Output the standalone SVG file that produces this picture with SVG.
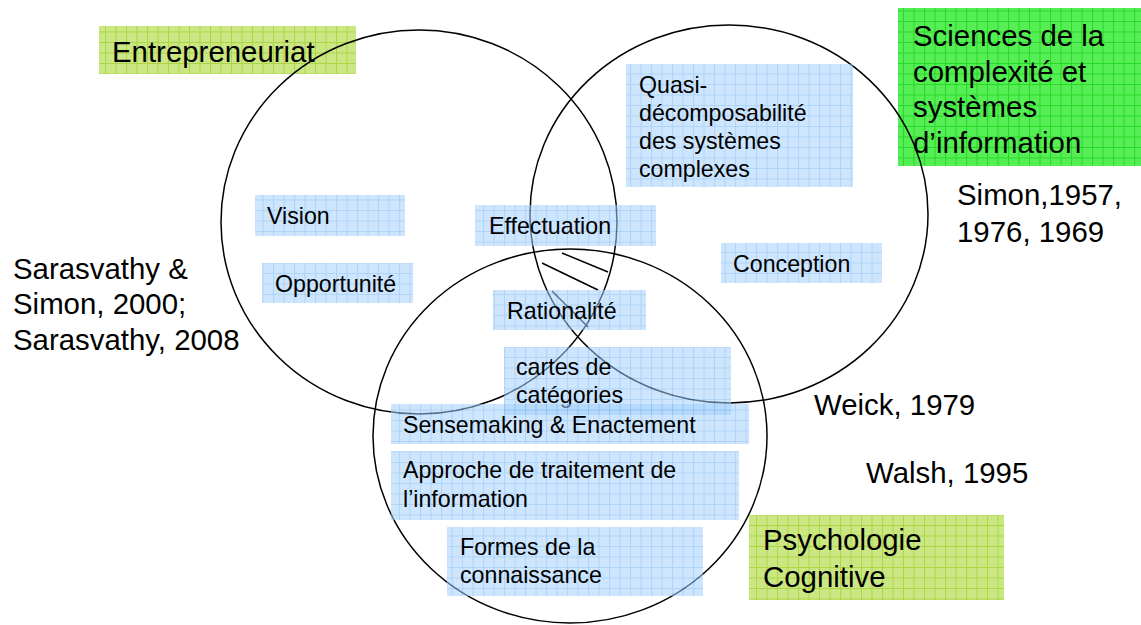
<svg xmlns="http://www.w3.org/2000/svg" width="1141" height="625" viewBox="0 0 1141 625">
<defs>
<style>
text{font-family:"Liberation Sans",Arial,sans-serif;fill:#000}
.big{font-size:29.4px}
.sm{font-size:23.2px}
.circ{fill:none;stroke:#000;stroke-width:1.5}
.hatch{stroke:#000;stroke-width:1.5}
.bbox{fill:url(#gblue);opacity:0.55}
.ybox{fill:url(#gyel)}
.gbox{fill:url(#ggrn)}
</style>
<pattern id="gblue" width="10.5" height="10.5" patternUnits="userSpaceOnUse">
<rect width="10.5" height="10.5" fill="#a4d0fb"/>
<path d="M0 0.5H10.5M0.5 0V10.5" stroke="#6fb2f3" stroke-width="1"/>
</pattern>
<pattern id="gyel" width="10.5" height="10.5" patternUnits="userSpaceOnUse">
<rect width="10.5" height="10.5" fill="#cbe784"/>
<path d="M0 0.5H10.5M0.5 0V10.5" stroke="#aed545" stroke-width="1"/>
</pattern>
<pattern id="ggrn" width="10.5" height="10.5" patternUnits="userSpaceOnUse">
<rect width="10.5" height="10.5" fill="#55ee55"/>
<path d="M0 0.5H10.5M0.5 0V10.5" stroke="#28d828" stroke-width="1"/>
</pattern>
</defs>
<rect width="1141" height="625" fill="#fff"/>

<g id="domain-entrepreneuriat">
<rect class="ybox" x="99" y="26" width="257" height="48"/>
<text class="big" x="112" y="62">Entrepreneuriat</text>
</g>
<g id="domain-sciences">
<rect class="gbox" x="898" y="8" width="243" height="158"/>
<text class="big" x="913" y="46">Sciences de la</text>
<text class="big" x="913" y="82">complexité et</text>
<text class="big" x="913" y="117">systèmes</text>
<text class="big" x="913" y="153">d’information</text>
</g>
<g id="domain-psychologie">
<rect class="ybox" x="749" y="515" width="255" height="85"/>
<text class="big" x="763" y="550">Psychologie</text>
<text class="big" x="763" y="587">Cognitive</text>
</g>

<g id="connectors">
<ellipse class="circ" cx="419" cy="222" rx="198" ry="192"/>
<ellipse class="circ" cx="729" cy="214" rx="199" ry="189"/>
<ellipse class="circ" cx="570" cy="436" rx="197" ry="187"/>
<line class="hatch" x1="562" y1="253" x2="608" y2="272"/>
<line class="hatch" x1="542" y1="263" x2="598" y2="290"/>
<line class="hatch" x1="552" y1="291" x2="588" y2="327"/>
</g>

<g id="ref-sarasvathy">
<text class="big" x="13" y="279">Sarasvathy &amp;</text>
<text class="big" x="13" y="314">Simon, 2000;</text>
<text class="big" x="13" y="350">Sarasvathy, 2008</text>
</g>
<g id="ref-simon">
<text class="big" x="957" y="205">Simon,1957,</text>
<text class="big" x="957" y="242">1976, 1969</text>
</g>
<g id="ref-weick"><text class="big" x="814" y="415">Weick, 1979</text></g>
<g id="ref-walsh"><text class="big" x="866" y="483">Walsh, 1995</text></g>

<g id="vision">
<rect class="bbox" x="255" y="195" width="150" height="41"/>
<text class="sm" x="267" y="224">Vision</text>
</g>
<g id="opportunite">
<rect class="bbox" x="262" y="263" width="151" height="40"/>
<text class="sm" x="275" y="292">Opportunité</text>
</g>
<g id="effectuation">
<rect class="bbox" x="475" y="205" width="181" height="41"/>
<text class="sm" x="489" y="234">Effectuation</text>
</g>
<g id="quasi">
<rect class="bbox" x="626" y="64" width="227" height="123"/>
<text class="sm" x="639" y="93">Quasi-</text>
<text class="sm" x="639" y="121">décomposabilité</text>
<text class="sm" x="639" y="149">des systèmes</text>
<text class="sm" x="639" y="177">complexes</text>
</g>
<g id="conception">
<rect class="bbox" x="721" y="243" width="161" height="40"/>
<text class="sm" x="733" y="272">Conception</text>
</g>
<g id="rationalite">
<rect class="bbox" x="493" y="290" width="153" height="40"/>
<text class="sm" x="507" y="319">Rationalité</text>
</g>
<g id="cartes">
<rect class="bbox" x="504" y="347" width="227" height="68"/>
<text class="sm" x="516" y="375">cartes de</text>
<text class="sm" x="516" y="403">catégories</text>
</g>
<g id="sensemaking">
<rect class="bbox" x="391" y="404" width="358" height="40"/>
<text class="sm" x="403" y="433">Sensemaking &amp; Enactement</text>
</g>
<g id="approche">
<rect class="bbox" x="391" y="451" width="348" height="69"/>
<text class="sm" x="403" y="478">Approche de traitement de</text>
<text class="sm" x="403" y="507">l’information</text>
</g>
<g id="formes">
<rect class="bbox" x="447" y="527" width="256" height="69"/>
<text class="sm" x="460" y="555">Formes de la</text>
<text class="sm" x="460" y="583">connaissance</text>
</g>
</svg>
